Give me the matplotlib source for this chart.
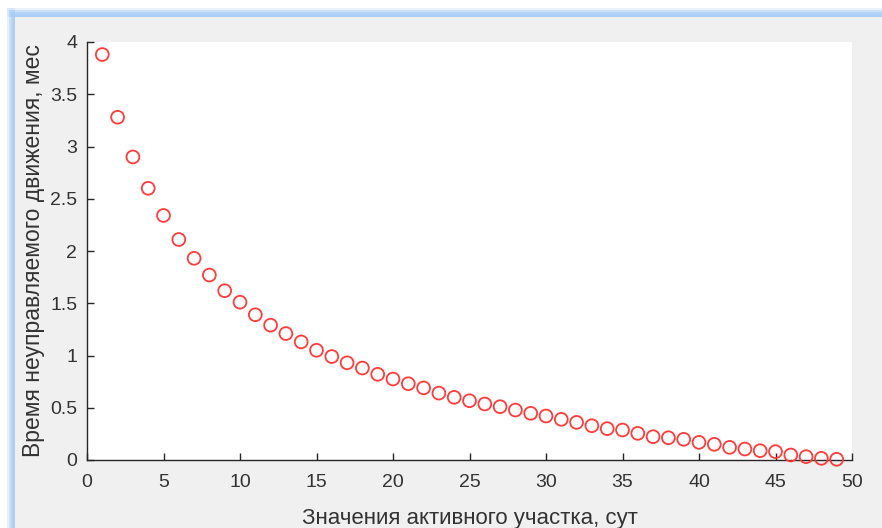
import matplotlib
matplotlib.use("Agg")
import matplotlib.pyplot as plt
from matplotlib.patches import Rectangle

# active-section length (days) vs. uncontrolled motion time (months)
active_days = list(range(1, 50))
free_time = [3.88, 3.28, 2.90, 2.60, 2.34, 2.11, 1.93, 1.77, 1.62, 1.51,
             1.39, 1.29, 1.21, 1.13, 1.05, 0.99, 0.93, 0.88, 0.82, 0.775,
             0.73, 0.69, 0.64, 0.60, 0.567, 0.536, 0.51, 0.478, 0.447, 0.421,
             0.389, 0.36, 0.328, 0.30, 0.287, 0.255, 0.223, 0.213, 0.198, 0.169,
             0.15, 0.121, 0.105, 0.089, 0.08, 0.048, 0.032, 0.016, 0.007]

xticks = [0, 5, 10, 15, 20, 25, 30, 35, 40, 45, 50]
yticks = [0, 0.5, 1, 1.5, 2, 2.5, 3, 3.5, 4]
ytick_labels = ["0", "0.5", "1", "1.5", "2", "2.5", "3", "3.5", "4"]

plt.rcParams["font.family"] = ["Liberation Sans", "DejaVu Sans"]
TXT = "#333333"

W, H = 882, 528
fig = plt.figure(figsize=(W / 100, H / 100), dpi=100, facecolor="white")

# window frame: light blue band on top/left, grey figure area inside
for i, a in enumerate([0.25, 0.45, 0.65, 0.85]):
    fig.patches.append(Rectangle(((7 + 2 * i) / W, 0), (15 - 7 - 2 * i) / W,
                                 1 - (8 + 2 * i) / H, transform=fig.transFigure,
                                 color="#a9cdf5", alpha=a, lw=0, zorder=-10))
    fig.patches.append(Rectangle(((7 + 2 * i) / W, 1 - 17 / H), 1, (17 - 8 - 2 * i) / H,
                                 transform=fig.transFigure,
                                 color="#a9cdf5", alpha=a, lw=0, zorder=-10))
fig.patches.append(Rectangle((15 / W, 0), 1, 1 - 17 / H, transform=fig.transFigure,
                             color="#f0f0f0", lw=0, zorder=-10))

ax = fig.add_axes([87 / W, 1 - 460 / H, (852 - 87) / W, (460 - 42) / H])
ax.set_zorder(1)
ax.set_facecolor("white")
ax.scatter(active_days, free_time, s=85, facecolors="none",
           edgecolors="#ff3b3b", linewidths=1.3, zorder=3, clip_on=False)

ax.set_xlim(0, 50)
ax.set_ylim(0, 4)
ax.set_xticks(xticks)
ax.set_yticks(yticks)
ax.set_yticklabels(ytick_labels)
for s in ["top", "right"]:
    ax.spines[s].set_visible(False)
for s in ["left", "bottom"]:
    ax.spines[s].set_color("#262626")
    ax.spines[s].set_linewidth(1.0)
ax.tick_params(direction="in", length=5, width=1.0, color="#262626",
               labelcolor=TXT, labelsize=14)
ax.tick_params(axis="x", pad=10)
ax.tick_params(axis="y", pad=7)

ax.set_xlabel("Значения активного участка, сут", fontsize=16, color=TXT, labelpad=12)
ax.set_ylabel("Время неуправляемого движения, мес", fontsize=16.5, color=TXT, labelpad=4)

fig.savefig("out.png", dpi=100, facecolor=fig.get_facecolor())
